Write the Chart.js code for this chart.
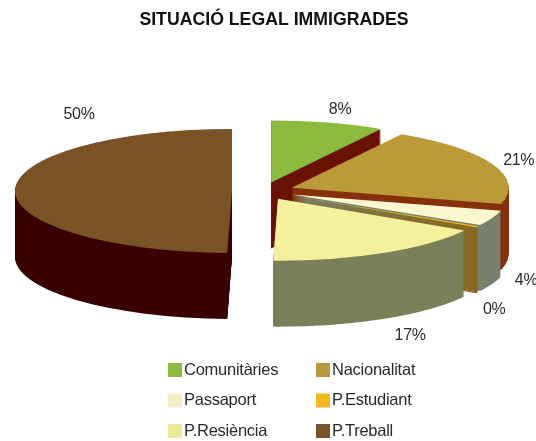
<!DOCTYPE html>
<html>
<head>
<meta charset="utf-8">
<style>
  html, body { margin: 0; background: #fff; }
  canvas { display: block; }
</style>
<script src="https://cdn.jsdelivr.net/npm/chart.js@4"></script>
</head>
<body>
<canvas id="pie" width="536" height="441"></canvas>
<script>
const categories = ['Comunitàries', 'Nacionalitat', 'Passaport', 'P.Estudiant', 'P.Resiència', 'P.Treball'];
const shares = [8.45, 20.8, 4, 0.3, 16.8, 49.65];
const topColors = ['#8cbc3e', '#bb9a38', '#fbf7cf', '#f4b71e', '#f4f09b', '#795326'];
const wallColors = ['#6a1204', '#86300c', '#79806c', '#88691f', '#7a8058', '#3a0000'];
const legendColors = ['#8cbc3e', '#b89a3c', '#f3efc4', '#f4b71e', '#ecea92', '#795326'];

// layout of the fake 3d pie, in page pixels
const centerX = 263, centerY = 191, radiusX = 217, radiusY = 62;
const explode = 31, depth = 66;
const drawOrder = [5, 0, 1, 2, 3, 4];
const labelNudge = [[12, -13], [26, -4], [34, 62], [17, 83], [27, 83], [64, -76]];

const pie3d = {
  id: 'pie3d',
  beforeDatasetDraw(chart) {
    const { ctx } = chart;
    const arcs = chart.getDatasetMeta(0).data;
    drawOrder.forEach(i => {
      const arc = arcs[i];
      const mid = (arc.startAngle + arc.endAngle) / 2;
      const sx = radiusX / arc.outerRadius, sy = radiusY / arc.outerRadius;
      const ox = centerX + Math.cos(mid) * explode;
      const oy = centerY + Math.sin(mid) * explode * radiusY / radiusX;
      const topOptions = arc.options;
      const paint = dy => {
        ctx.save();
        ctx.translate(ox, oy + dy);
        ctx.scale(sx, sy);
        ctx.translate(-arc.x, -arc.y);
        arc.draw(ctx);
        ctx.restore();
      };
      arc.options = Object.assign({}, topOptions, { backgroundColor: wallColors[i] });
      for (let dy = depth; dy > 0; dy--) paint(dy);
      arc.options = topOptions;
      paint(0);
    });
    return false;
  },
  afterDraw(chart) {
    const { ctx } = chart;
    const arcs = chart.getDatasetMeta(0).data;
    ctx.save();
    ctx.textAlign = 'center';
    ctx.textBaseline = 'middle';
    ctx.font = '16px "Liberation Sans"';
    ctx.letterSpacing = '-0.3px';
    ctx.fillStyle = '#2a2a2a';
    const total = shares.reduce((a, b) => a + b, 0);
    arcs.forEach((arc, i) => {
      const mid = (arc.startAngle + arc.endAngle) / 2;
      const ox = centerX + Math.cos(mid) * explode;
      const oy = centerY + Math.sin(mid) * explode * radiusY / radiusX;
      const x = ox + Math.cos(mid) * radiusX + labelNudge[i][0];
      const y = oy + Math.sin(mid) * radiusY + labelNudge[i][1];
      ctx.fillText(Math.round(shares[i] / total * 100) + '%', x, y);
    });
    // two column legend, filled row by row
    ctx.textAlign = 'left';
    ctx.font = '16.5px "Liberation Sans"';
    ctx.letterSpacing = '-0.25px';
    categories.forEach((name, i) => {
      const x = i % 2 ? 316 : 168;
      const y = 370 + Math.floor(i / 2) * 30.5;
      ctx.fillStyle = legendColors[i];
      ctx.fillRect(x, y - 7, 14, 14);
      ctx.fillStyle = '#2a2a2a';
      ctx.fillText(name, x + 16, y);
    });
    ctx.restore();
  }
};

new Chart(document.getElementById('pie'), {
  type: 'pie',
  data: {
    labels: categories,
    datasets: [{ data: shares, backgroundColor: topColors, borderWidth: 0 }]
  },
  options: {
    responsive: false,
    animation: false,
    layout: { padding: { left: 12 } },
    plugins: {
      legend: { display: false },
      tooltip: { enabled: false },
      title: {
        display: true,
        fullSize: false,
        text: 'SITUACIÓ LEGAL IMMIGRADES',
        color: '#111',
        font: { family: '"Liberation Sans"', size: 17.7, weight: 'bold' },
        padding: { top: 9, bottom: 10 }
      }
    }
  },
  plugins: [pie3d]
});
</script>
</body>
</html>
